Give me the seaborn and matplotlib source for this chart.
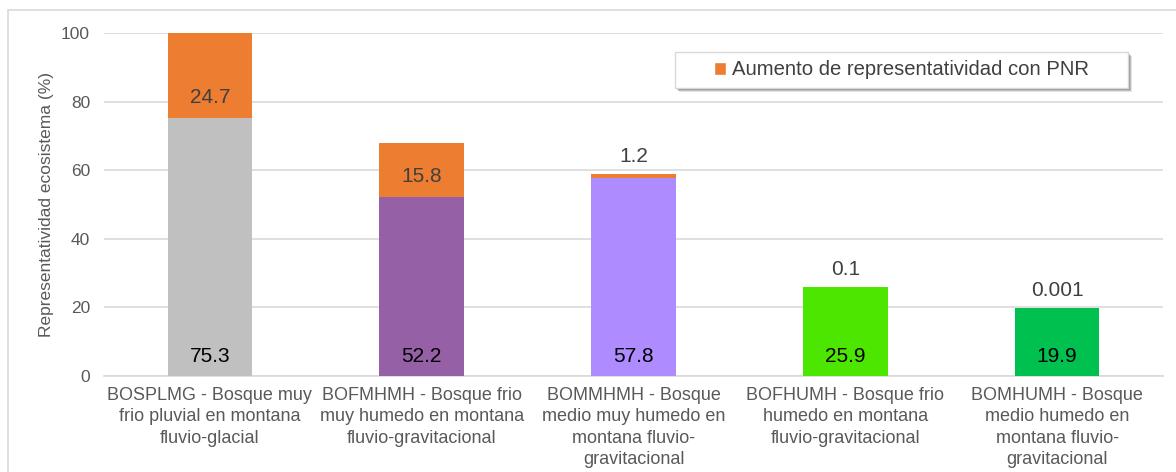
import matplotlib
matplotlib.use("Agg")
import matplotlib.pyplot as plt
import seaborn as sns
import pandas as pd
from matplotlib.patches import Rectangle, Patch

categories = [
    "BOSPLMG - Bosque muy\nfrio pluvial en montana\nfluvio-glacial",
    "BOFMHMH - Bosque frio\nmuy humedo en montana\nfluvio-gravitacional",
    "BOMMHMH - Bosque\nmedio muy humedo en\nmontana fluvio-\ngravitacional",
    "BOFHUMH - Bosque frio\nhumedo en montana\nfluvio-gravitacional",
    "BOMHUMH - Bosque\nmedio humedo en\nmontana fluvio-\ngravitacional",
]
base_values = [75.3, 52.2, 57.8, 25.9, 19.9]
pnr_increase = [24.7, 15.8, 1.2, 0.1, 0.001]
base_labels = ["75.3", "52.2", "57.8", "25.9", "19.9"]
increase_labels = ["24.7", "15.8", "1.2", "0.1", "0.001"]
base_colors = ["#C0C0C0", "#9560A5", "#AE8BFF", "#4CE600", "#00C050"]
orange = "#ED7D31"
legend_label = "Aumento de representatividad con PNR"
y_label = "Representatividad ecosistema (%)"

sns.set_theme(style="white")
plt.rcParams["font.family"] = ["Liberation Sans", "DejaVu Sans"]

df = pd.DataFrame({
    "cat": categories,
    "base": base_values,
    "inc": pnr_increase,
})
df["total"] = df["base"] + df["inc"]

fig = plt.figure(figsize=(11.76, 4.72), dpi=100)
ax = fig.add_axes([104 / 1176, 1 - 376 / 472, (1163 - 104) / 1176, 343 / 472])

# outer chart frame
fig.patches.append(Rectangle((8 / 1176, -0.05), 1.2, 1 - 10 / 472 + 0.05,
                             transform=fig.transFigure, fill=False,
                             edgecolor="#D9D9D9", linewidth=1.2, zorder=0))

# stacked bars: total in orange, base drawn over it
sns.barplot(data=df, x="cat", y="total", color=orange, width=0.4,
            saturation=1, linewidth=0, edgecolor="none", ax=ax, zorder=3)
sns.barplot(data=df, x="cat", y="base", hue="cat", palette=base_colors,
            width=0.4, saturation=1, linewidth=0, edgecolor="none",
            legend=False, ax=ax, zorder=4)

for i, (b, inc) in enumerate(zip(base_values, pnr_increase)):
    ax.text(i, 5.8, base_labels[i], ha="center", va="center",
            fontsize=15, color="#000000", zorder=6)
    if inc > 10:
        ax.text(i, b + 6, increase_labels[i], ha="center", va="center",
                fontsize=15, color="#404040", zorder=6)
    else:
        ax.text(i, b + inc + 5, increase_labels[i], ha="center", va="center",
                fontsize=15, color="#404040", zorder=6)

ax.set_ylim(0, 100)
ax.set_xlim(-0.5, 4.5)
ax.set_yticks([0, 20, 40, 60, 80, 100])
ax.yaxis.grid(True, color="#D9D9D9", linewidth=1.2, zorder=0)
ax.set_axisbelow(True)
for s in ["top", "right", "left"]:
    ax.spines[s].set_visible(False)
ax.spines["bottom"].set_color("#D9D9D9")
ax.spines["bottom"].set_linewidth(1.2)
ax.tick_params(axis="both", length=0, colors="#595959", labelsize=12.5)
ax.tick_params(axis="y", pad=10)
ax.tick_params(axis="x", pad=8)
ax.set_xlabel("")
ax.set_ylabel(y_label, fontsize=12.5, color="#595959", labelpad=5)
for t in ax.get_xticklabels():
    t.set_fontsize(13)
    t.set_linespacing(1.33)
    t.set_va("top")

# legend box with a soft drop shadow (offset layers, in axes fractions)
bx, by, bw, bh = 0.539, 0.840, 0.428, 0.105
px, py = 1 / 1059, 1 / 343
for k, a in [(4, 0.15), (3, 0.25), (2, 0.35)]:
    ax.add_patch(Rectangle((bx + k * px, by - k * py), bw, bh,
                           transform=ax.transAxes, facecolor="#505050",
                           edgecolor="none", alpha=a, zorder=6.5))
ax.add_patch(Rectangle((bx, by), bw, bh, transform=ax.transAxes,
                       facecolor="white", edgecolor="#D9D9D9", linewidth=1,
                       zorder=7))
leg = ax.legend(handles=[Patch(facecolor=orange, label=legend_label)],
                loc="center", bbox_to_anchor=(bx + bw / 2, by + bh / 2),
                fontsize=14.6, frameon=False,
                handlelength=0.6, handleheight=0.6, handletextpad=0.3,
                borderpad=0, borderaxespad=0)
leg.set_zorder(8)
for t in leg.get_texts():
    t.set_color("#404040")

fig.savefig("out.png", dpi=100, facecolor="white")
